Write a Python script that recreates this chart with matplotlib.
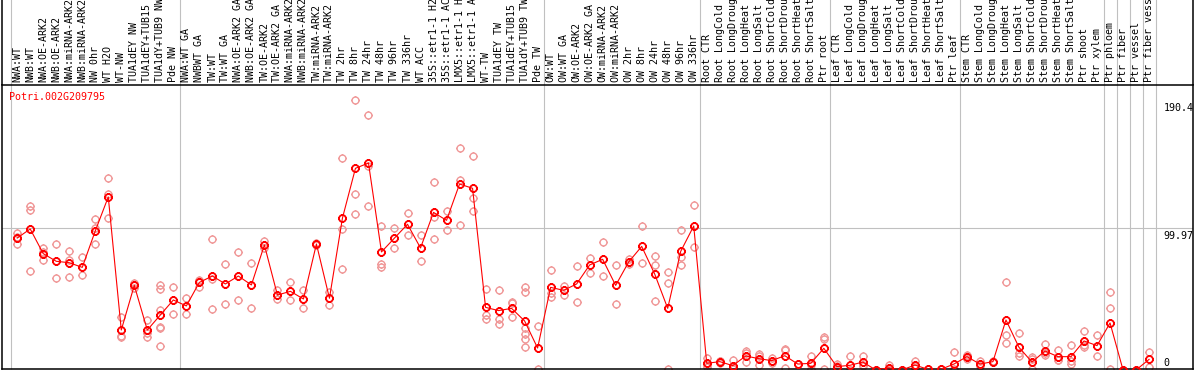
import matplotlib
matplotlib.use('Agg')
import matplotlib.pyplot as plt
import matplotlib.transforms as mtransforms
from matplotlib.path import Path

# ---------------- data ----------------
gene_name = "Potri.002G209795"

categories = [
    "NWA:WT", "NWB:WT", "NWA:OE-ARK2", "NWB:OE-ARK2", "NWA:miRNA-ARK2", "NWB:miRNA-ARK2",
    "NW 0hr", "WT H2O", "WT-NW", "TUA1dEY NW", "TUA1dEY+TUB15 NW", "TUA1dY+TUB9 NW", "Pde NW",
    "NWA:WT GA", "NWBWT GA", "TW:WT", "TW:WT GA", "NWA:OE-ARK2 GA", "NWB:OE-ARK2 GA",
    "TW:OE-ARK2", "TW:OE-ARK2 GA", "NWA:miRNA-ARK2 GA", "NWB:miRNA-ARK2 GA", "TW:miRNA-ARK2",
    "TW:miRNA-ARK2 GA", "TW 2hr", "TW 8hr", "TW 24hr", "TW 48hr", "TW 96hr", "TW 336hr",
    "WT ACC", "35S::etr1-1 H2O", "35S::etr1-1 ACC", "LMX5::etr1-1 H2O", "LMX5::etr1-1 ACC",
    "WT-TW", "TUA1dEY TW", "TUA1dEY+TUB15 TW", "TUA1dY+TUB9 TW", "Pde TW",
    "OW:WT", "OW:WT GA", "OW:OE-ARK2", "OW:OE-ARK2 GA", "OW:miRNA-ARK2", "OW:miRNA-ARK2 GA",
    "OW 2hr", "OW 8hr", "OW 24hr", "OW 48hr", "OW 96hr", "OW 336hr",
    "Root CTR", "Root LongCold", "Root LongDrought", "Root LongHeat", "Root LongSalt",
    "Root ShortCold", "Root ShortDrought", "Root ShortHeat", "Root ShortSalt", "Ptr root",
    "Leaf CTR", "Leaf LongCold", "Leaf LongDrought", "Leaf LongHeat", "Leaf LongSalt",
    "Leaf ShortCold", "Leaf ShortDrought", "Leaf ShortHeat", "Leaf ShortSalt", "Ptr leaf",
    "Stem CTR", "Stem LongCold", "Stem LongDrought", "Stem LongHeat", "Stem LongSalt",
    "Stem ShortCold", "Stem ShortDrought", "Stem ShortHeat", "Stem ShortSalt", "Ptr shoot",
    "Ptr xylem", "Ptr phloem", "Ptr fiber", "Ptr vessel", "Ptr fiber vessel",
]

mean_values = [
    93.1, 99.5, 82.1, 76.7, 75.7, 72.4, 98.1, 122.1, 28.2, 59.7, 28.2, 38.8, 49.4,
    45.2, 61.8, 66.3, 60.7, 66.3, 60.0, 88.2, 52.9, 55.5, 50.1, 88.9, 50.6, 107.2, 142.3,
    146.0, 83.3, 93.1, 102.8, 86.1, 111.2, 105.6, 131.2, 128.2, 44.2, 41.9, 43.5, 34.6, 15.5,
    58.3, 56.2, 60.7, 74.1, 78.1, 59.7, 76.2, 87.2, 67.7, 43.5, 83.7, 101.6,
    4.7, 5.9, 3.1, 9.9, 8.0, 6.6, 10.1, 4.2, 4.7, 15.3,
    2.4, 3.3, 5.6, 0.0, 1.6, 0.0, 3.5, 0.5, 0.5, 4.2,
    9.4, 4.2, 5.9, 35.3, 16.0, 5.6, 13.4, 9.4, 9.4, 20.5, 17.2,
    33.2, 0.0, 0.0, 7.5,
]

replicate_values = [
    [96.7, 89.1, 93.5], [115.7, 112.6, 69.8], [83.0, 77.4, 86.0], [88.9, 64.7],
    [83.7, 65.4, 77.9], [79.7, 66.8], [106.5, 88.9, 100.3], [135.5, 124.4, 107.2],
    [37.2, 24.0, 23.1], [61.4, 60.0, 58.0], [35.3, 25.9, 23.1],
    [60.0, 56.9, 42.3, 30.6, 29.4, 16.9], [58.3, 39.5],
    [50.6, 39.5], [63.5, 58.8, 63.0], [92.4, 64.0, 43.0], [74.8, 46.6], [83.3, 49.4],
    [75.5, 43.5], [91.2, 85.8], [56.4, 49.9], [62.1, 49.4], [56.4, 43.5], [89.5, 88.3],
    [55.0, 45.6], [149.3, 99.2, 71.0], [190.4, 123.9, 109.8], [179.9, 143.9, 115.7],
    [101.6, 74.8, 72.9], [100.2, 86.1], [110.5, 95.2], [95.2, 76.7], [132.6, 108.2, 92.2],
    [112.2, 98.5], [156.4, 134.0, 102.1], [150.7, 121.1, 112.2], [56.9, 38.8, 36.2],
    [56.4, 35.8, 32.5], [48.2, 47.5, 37.2], [58.8, 55.3, 29.4, 25.4, 22.2, 16.5], [30.8, 0.5],
    [70.3, 54.1, 51.3], [59.5, 52.9], [73.4, 48.2], [79.3, 68.2], [90.1, 66.3], [74.1, 46.3],
    [78.0, 74.5], [101.6, 75.2], [80.4, 73.9, 48.9], [68.9, 61.1, 0.5], [98.5, 80.0, 73.9],
    [116.4, 86.5],
    [8.2, 2.4, 3.5], [6.5, 5.2, 6.0], [7.1, 1.2, 1.0], [13.6, 12.2, 5.9], [11.3, 10.1, 3.5],
    [8.2, 5.1, 6.5], [14.6, 1.6, 14.1], [4.5, 4.0], [9.9, 0.5, 3.7], [23.0, 21.6, 0.9],
    [4.2, 0.5, 2.5], [10.1, 0.0, 0.0], [10.1, 3.5, 3.0], [0.0, 0.0], [3.3, 0.5, 1.0],
    [0.0, 0.0], [6.6, 1.2, 2.7], [0.5, 0.5], [0.5, 0.5], [12.5, 0.5, 0.0],
    [10.5, 7.5, 10.2], [6.3, 2.5, 4.0], [6.5, 5.3], [61.8, 24.5, 18.8], [25.9, 11.8, 9.9],
    [8.9, 0.5, 7.5], [18.3, 10.3, 11.7], [14.1, 7.1, 7.0], [17.4, 4.2, 6.6],
    [27.5, 16.5, 17.5], [24.5, 9.6],
    [54.8, 44.0, 0.5], [0.0, 0.0], [0.0, 0.0], [12.7, 2.4],
]

group_sizes = [13, 28, 12, 10, 10, 11, 1, 1, 1, 1]
ytick_values = [0, 99.97, 190.4]
ytick_labels = ["0", "99.97", "190.4"]

# ---------------- figure ----------------
W, H = 1194, 370
fig = plt.figure(figsize=(W / 100, H / 100), dpi=100)
ax = fig.add_axes([1.5 / W, 0.7 / H, 1191 / W, 284.3 / H])

n = len(categories)
xs = list(range(n))
ax.set_xlim(-1.207, 90.338)
ax.set_ylim(0.494, 201.07)
ax.set_xticks([])
ax.set_yticks([])
for s in ax.spines.values():
    s.set_color('black')
    s.set_linewidth(1.1)

MONO = 'DejaVu Sans Mono'
FS = 7.2

# separators between groups (extend into label area)
bounds = [-0.5]
acc = -0.5
for g in group_sizes:
    acc += g
    bounds.append(acc)
ax.vlines(bounds, 0, 1.4, transform=ax.get_xaxis_transform(), colors='#c0c0c0',
          lw=0.8, clip_on=False, zorder=0.5)
# left/right frame extend to top
ax.vlines([0, 1], 1, 1.4, transform=ax.transAxes, colors='black', lw=1.1,
          clip_on=False, zorder=5)
ax.axhline(ytick_values[1], color='#c0c0c0', lw=0.8, zorder=0.5)

# marker: circle with four small ticks
circ = Path.unit_circle()
T = 1.25
tick_paths = [Path([(0, 1), (0, T)], [Path.MOVETO, Path.LINETO]),
              Path([(0, -1), (0, -T)], [Path.MOVETO, Path.LINETO]),
              Path([(1, 0), (T, 0)], [Path.MOVETO, Path.LINETO]),
              Path([(-1, 0), (-T, 0)], [Path.MOVETO, Path.LINETO])]
mk = Path.make_compound_path(circ, *tick_paths)

rx, ry = [], []
for i, reps in enumerate(replicate_values):
    rx += [i] * len(reps)
    ry += reps
ax.plot(rx, ry, ls='none', marker=mk, ms=6.2, mfc='none', mec='#f09898', mew=1.0, zorder=2)
ax.plot(xs, mean_values, color='#ff0000', lw=0.8, zorder=3)
ax.plot(xs, mean_values, ls='none', marker=mk, ms=6.2, mfc='none', mec='#ff0000', mew=1.3, zorder=4)

# category labels
for i, lab in enumerate(categories):
    ax.text(i, 1.0106, lab, transform=ax.get_xaxis_transform(), rotation=90,
            ha='center', va='bottom', fontsize=FS, family=MONO, color='black', clip_on=False)

# gene name
ax.text(0.0065, 0.959, gene_name, transform=ax.transAxes, ha='left', va='center',
        fontsize=FS, family=MONO, color='#ff0000')

# y value labels inside right margin
blend = mtransforms.blended_transform_factory(ax.transAxes, ax.transData)
for v, lab in zip(ytick_values, ytick_labels):
    if v == 0:
        tr = mtransforms.offset_copy(blend, fig=fig, y=4.3, units='dots')
        va = 'baseline'
    else:
        tr = mtransforms.offset_copy(blend, fig=fig, y=-2.5, units='dots')
        va = 'top'
    ax.text(0.9755, v, lab, transform=tr, ha='left', va=va, fontsize=FS, family=MONO,
            color='black')

fig.savefig('out.png', dpi=100)
